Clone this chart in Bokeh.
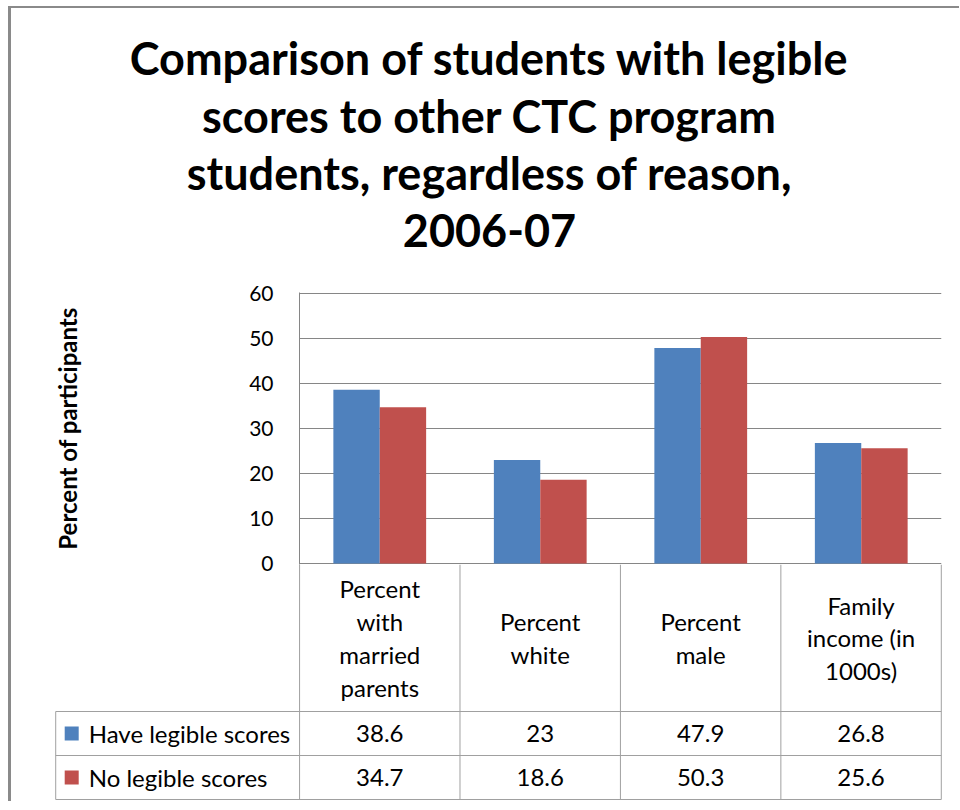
from bokeh.plotting import figure
from bokeh.layouts import column
from bokeh.models import Range1d, FixedTicker, ColumnDataSource
from bokeh.transform import dodge
from bokeh.core.properties import value
from bokeh.embed import file_html
from bokeh.resources import INLINE

# ---------------- data ----------------
TITLE_LINES = [
    "Comparison of students with legible",
    "scores to other CTC program",
    "students, regardless of reason,",
    "2006-07",
]
CATEGORIES = [
    "Percent\nwith\nmarried\nparents",
    "Percent\nwhite",
    "Percent\nmale",
    "Family\nincome (in\n1000s)",
]
SERIES = ["Have legible scores", "No legible scores"]
HAVE_LEGIBLE = [38.6, 23, 47.9, 26.8]
NO_LEGIBLE = [34.7, 18.6, 50.3, 25.6]
Y_TICKS = [0, 10, 20, 30, 40, 50, 60]
Y_LABEL = "Percent of participants"
COLORS = ["#4F81BD", "#C0504D"]

# ---------------- style constants ----------------
FONT = "Lato"
W = 948
GRID_COLOR = "#868686"
TABLE_COLOR = "#a0a0a0"
CAT_PX = 160.5          # pixels per category
BAR_W = 0.289           # bar width in category units
LC = 1.52               # legend column width in category units
PAD = 0.02
HEADER_H = 147
ROW_H = 44
OVERLAP = 12            # px of the chart's bottom border shared with the table

n = len(CATEGORIES)
xs = [i + 0.5 for i in range(n)]

# ---------------- title figure ----------------
p0 = figure(width=W, height=260, x_range=Range1d(0, W), y_range=Range1d(260, 0),
            x_axis_location=None, y_axis_location=None, min_border=0,
            output_backend="svg", toolbar_location=None)
p0.outline_line_color = None
p0.grid.visible = False
p0.text(x=[478] * len(TITLE_LINES), y=[49.5 + 57.5 * i for i in range(len(TITLE_LINES))],
        text=TITLE_LINES, text_font=value(FONT), text_font_style="bold",
        text_font_size="45px", text_align="center", text_baseline="middle",
        text_color="#000000")

# ---------------- chart figure ----------------
p1 = figure(frame_width=int(CAT_PX * n), frame_height=272,
            x_range=Range1d(0, n), y_range=Range1d(-0.2, 60.2),
            x_axis_location=None, min_border_left=288, min_border_right=18,
            min_border_top=24, min_border_bottom=OVERLAP,
            output_backend="svg", toolbar_location=None)
p1.outline_line_color = None
p1.xgrid.visible = False
p1.ygrid.ticker = FixedTicker(ticks=Y_TICKS)
p1.ygrid.grid_line_color = GRID_COLOR
ax = p1.yaxis[0]
ax.ticker = FixedTicker(ticks=Y_TICKS)
ax.axis_line_color = GRID_COLOR
ax.major_tick_in = 0
ax.major_tick_out = 0
ax.minor_tick_line_color = None
ax.major_label_standoff = 26
ax.major_label_text_font = FONT
ax.major_label_text_font_size = "21px"
ax.major_label_text_color = "#000000"
ax.axis_label = Y_LABEL
ax.axis_label_text_font = FONT
ax.axis_label_text_font_style = "bold"
ax.axis_label_text_font_size = "24px"
ax.axis_label_text_color = "#000000"
ax.axis_label_standoff = 164

src = ColumnDataSource(dict(x=xs, have=HAVE_LEGIBLE, none=NO_LEGIBLE))
p1.vbar(x=dodge("x", -BAR_W / 2), top="have", bottom=0, width=BAR_W, source=src,
        fill_color=COLORS[0], line_color=None)
p1.vbar(x=dodge("x", BAR_W / 2), top="none", bottom=0, width=BAR_W, source=src,
        fill_color=COLORS[1], line_color=None)

# ---------------- data table figure ----------------
table_h = HEADER_H + 2 * ROW_H
p2 = figure(frame_width=int(round((n + LC + 2 * PAD) * CAT_PX)), frame_height=table_h + 2,
            x_range=Range1d(-LC - PAD, n + PAD), y_range=Range1d(table_h + 2, 0),
            x_axis_location=None, y_axis_location=None,
            min_border_left=41, min_border_right=15, min_border_top=OVERLAP,
            min_border_bottom=0,
            output_backend="svg", toolbar_location=None)
p2.outline_line_color = None
p2.grid.visible = False
p2.border_fill_color = None
p2.background_fill_color = None

# vertical lines
vx0 = list(range(n + 1)) + [-LC]
vy0 = [0] * (n + 1) + [HEADER_H]
vy1 = [table_h] * (n + 2)
p2.segment(x0=vx0, y0=vy0, x1=vx0, y1=vy1, line_color=TABLE_COLOR, line_width=1)
# horizontal lines
hy = [HEADER_H, HEADER_H + ROW_H, table_h]
p2.segment(x0=[-LC] * 3, y0=hy, x1=[n] * 3, y1=hy, line_color=TABLE_COLOR, line_width=1)

# header (category names)
p2.text(x=xs, y=[HEADER_H / 2] * n, text=CATEGORIES, text_font=value(FONT),
        text_font_size="24px", text_align="center", text_baseline="middle",
        text_line_height=1.13, text_color="#000000")

# values
for r, vals in enumerate([HAVE_LEGIBLE, NO_LEGIBLE]):
    yc = HEADER_H + ROW_H * r + ROW_H / 2
    p2.text(x=xs, y=[yc] * n, text=[f"{v:g}" for v in vals], text_font=value(FONT),
            text_font_size="24px", text_align="center", text_baseline="middle",
            text_color="#000000")
    # legend key + series name
    p2.scatter(x=[-LC + 16 / CAT_PX], y=[yc], marker="square", size=14,
               fill_color=COLORS[r], line_color=None)
    p2.text(x=[-LC + 33 / CAT_PX], y=[yc], text=[SERIES[r]], text_font=value(FONT),
            text_font_size="24px", text_align="left", text_baseline="middle",
            text_color="#000000")

layout = column(column(p0), column(p1),
                column(p2, styles={"margin-top": f"-{2 * OVERLAP}px"}),
                spacing=0,
                styles={"margin-left": "8px", "margin-top": "6px",
                        "border-left": "3px solid #8a8a8a", "border-top": "2px solid #8a8a8a"})

open("out.html", "w").write(file_html(layout, INLINE))
